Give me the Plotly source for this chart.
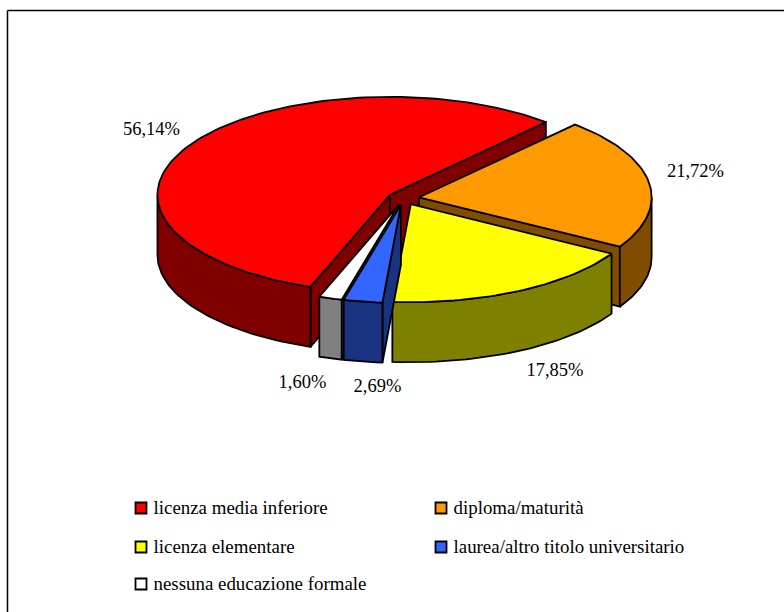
import math
import plotly.graph_objects as go

categories = ["licenza media inferiore", "diploma/maturità", "licenza elementare",
              "laurea/altro titolo universitario", "nessuna educazione formale"]
values = [56.14, 21.72, 17.85, 2.69, 1.60]
value_labels = ["56,14%", "21,72%", "17,85%", "2,69%", "1,60%"]

top_colors = ["#FF0000", "#FF9900", "#FFFF00", "#3366FF", "#FFFFFF"]
side_colors = ["#800000", "#804D00", "#808000", "#1A3380", "#808080"]
draw_order = [0, 1, 2, 4, 3]

# pie projection
CX, CY = 403.5, 198.3
RX, RY = 232.5, 98.0
DEPTH = 60.0
EXPLODE = 15.8
START_DEG = 250.0
LINE_W = 1.8

label_xy = [(151.5, 130), (695.5, 172), (555, 371), (377.5, 387), (302.5, 383)]
legend_xy = [(141, 508), (441, 508), (141, 547), (441, 547), (141, 584)]
LEGEND_GAP = 12.5
TEXT_FONT = dict(family="Liberation Serif", size=18.5, color="black")
LEGEND_FONT = dict(family="Liberation Serif", size=18.9, color="black")

fig = go.Figure()


def poly(xs, ys, fill):
    fig.add_trace(go.Scatter(x=xs, y=ys, mode="lines", fill="toself", fillcolor=fill,
                             line=dict(color="black", width=LINE_W), hoverinfo="skip",
                             showlegend=False))


def arc(cx, cy, a0, a1, dy=0.0):
    n = max(2, int(abs(a1 - a0) / 1.5) + 1)
    angs = [a0 + (a1 - a0) * i / (n - 1) for i in range(n)]
    return ([cx + RX * math.cos(math.radians(a)) for a in angs],
            [cy - RY * math.sin(math.radians(a)) + dy for a in angs])


total = sum(values)
spans = []
a = START_DEG
for v in values:
    b = a - v / total * 360.0
    spans.append((a, b))
    a = b

for i in draw_order:
    a0, a1 = spans[i]
    mid = math.radians((a0 + a1) / 2)
    cx = CX + EXPLODE * math.cos(mid)
    cy = CY - EXPLODE * (RY / RX) * math.sin(mid)
    # cut faces seen from the front
    for ang, seen in ((a0, math.cos(math.radians(a0)) < 0), (a1, math.cos(math.radians(a1)) > 0)):
        if seen:
            ex = cx + RX * math.cos(math.radians(ang))
            ey = cy - RY * math.sin(math.radians(ang))
            poly([cx, ex, ex, cx, cx], [cy, ey, ey + DEPTH, cy + DEPTH, cy], side_colors[i])
    # outer wall: the part of the rim on the near half of the ellipse
    for base in (360.0, 0.0):
        w0 = min(a0, base)
        w1 = max(a1, base - 180.0)
        if w0 > w1:
            xt, yt = arc(cx, cy, w0, w1)
            xb, yb = arc(cx, cy, w1, w0, DEPTH)
            poly(xt + xb + xt[:1], yt + yb + yt[:1], side_colors[i])
    # top
    xt, yt = arc(cx, cy, a0, a1)
    poly([cx] + xt + [cx], [cy] + yt + [cy], top_colors[i])

# data labels
fig.add_trace(go.Scatter(x=[p[0] for p in label_xy], y=[p[1] for p in label_xy], mode="text",
                         text=value_labels, textposition="middle center", textfont=TEXT_FONT,
                         hoverinfo="skip", showlegend=False))

# legend
fig.add_trace(go.Scatter(x=[p[0] for p in legend_xy], y=[p[1] for p in legend_xy],
                         mode="markers", hoverinfo="skip", showlegend=False,
                         marker=dict(symbol="square", size=11, color=top_colors,
                                     line=dict(color="black", width=1.8))))
fig.add_trace(go.Scatter(x=[p[0] + LEGEND_GAP for p in legend_xy], y=[p[1] + 1 for p in legend_xy],
                         mode="text", text=categories, textposition="middle right",
                         textfont=LEGEND_FONT, hoverinfo="skip", showlegend=False))

fig.update_layout(
    width=784, height=612, autosize=False,
    margin=dict(l=0, r=0, t=0, b=0),
    paper_bgcolor="white", plot_bgcolor="white",
    xaxis=dict(range=[0, 784], visible=False, fixedrange=True),
    yaxis=dict(range=[612, 0], visible=False, fixedrange=True),
    shapes=[
        dict(type="line", x0=7.5, x1=7.5, y0=10.5, y1=612, line=dict(color="black", width=1.5)),
        dict(type="line", x0=7.5, x1=784, y0=10.5, y1=10.5, line=dict(color="black", width=1.5)),
    ],
)
fig.write_html("out.html", config={"displayModeBar": False},
               post_script="document.body.style.margin='0';document.documentElement.style.overflow='hidden';")
